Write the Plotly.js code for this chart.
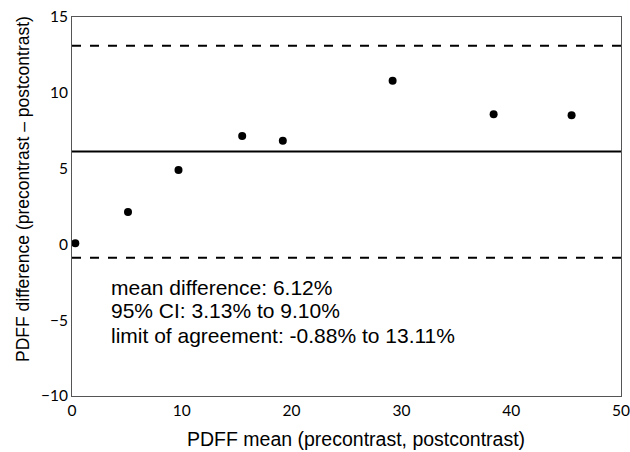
<!DOCTYPE html>
<html><head><meta charset="utf-8">
<script src="https://cdn.plot.ly/plotly-3.0.1.min.js"></script>
<style>html,body{margin:0;padding:0;background:#fff}</style>
</head><body><div id="chart" style="width:630px;height:452px"></div>
<script>
const pdffMean = [0.3, 5.1, 9.7, 15.5, 19.2, 29.2, 38.4, 45.5];
const pdffDiff = [0.08, 2.14, 4.9, 7.15, 6.84, 10.8, 8.58, 8.52];
const meanDiff = 6.12;
const loaLower = -0.88;
const loaUpper = 13.11;
const statsText = ["mean difference: 6.12%", "95% CI: 3.13% to 9.10%", "limit of agreement: -0.88% to 13.11%"];
const statsY = [-2.84, -4.39, -6.04];
const xTicks = [0, 10, 20, 30, 40, 50];
const yTicks = [-10, -5, 0, 5, 10, 15];
const xTitle = "PDFF mean (precontrast, postcontrast)";
const yTitle = "PDFF difference (precontrast \u2013 postcontrast)";

const hline = (y, dash) => ({type:'line', xref:'paper', x0:0, x1:1, yref:'y', y0:y, y1:y,
  line:{color:'#000', width:2, dash:dash}});

const annotations = statsText.map((t, i) => ({xref:'x', yref:'y', x:3.35, y:statsY[i],
  xanchor:'left', yanchor:'middle', align:'left', showarrow:false, text:t,
  font:{size:21, color:'#000'}}));
annotations.push({xref:'paper', yref:'paper', x:0.518, y:-0.1135, xanchor:'center', yanchor:'middle',
  showarrow:false, text:xTitle, font:{size:19.5, color:'#000'}});
annotations.push({xref:'paper', yref:'paper', x:-0.0893, y:0.546, xanchor:'center', yanchor:'middle',
  textangle:-90, showarrow:false, text:yTitle, font:{size:17.5, color:'#000'}});

Plotly.newPlot('chart', [{
  x: pdffMean, y: pdffDiff, type:'scatter', mode:'markers',
  marker:{color:'#000', size:8}, cliponaxis:false, hoverinfo:'skip'
}], {
  width:630, height:452,
  margin:{l:72, r:9, t:17, b:56},
  paper_bgcolor:'#fff', plot_bgcolor:'#fff',
  showlegend:false,
  font:{family:'Liberation Sans, Arial, sans-serif', color:'#000'},
  xaxis:{range:[0,50], tickmode:'array', tickvals:xTicks, showgrid:false, zeroline:false, showline:true, mirror:true,
    linecolor:'#555', linewidth:1, ticks:'', ticklabeloverflow:'allow', tickfont:{family:'Lato, Carlito, sans-serif', size:15.5}},
  yaxis:{range:[-10,15], tickmode:'array', tickvals:yTicks, showgrid:false, zeroline:false, showline:true, mirror:true,
    linecolor:'#555', linewidth:1, ticks:'', tickfont:{family:'Lato, Carlito, sans-serif', size:15.5}},
  shapes:[hline(loaUpper,'dash'), hline(meanDiff,'solid'), hline(loaLower,'dash')],
  annotations: annotations
}, {displayModeBar:false, staticPlot:true});
</script></body></html>
